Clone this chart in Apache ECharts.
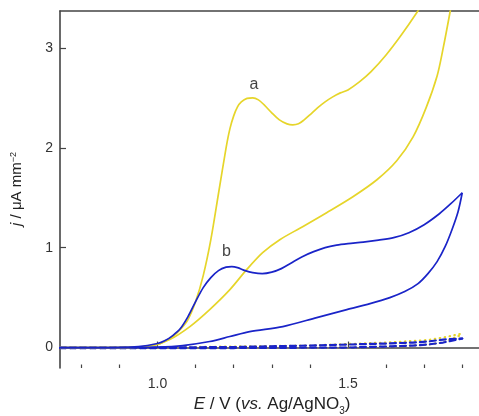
<!DOCTYPE html>
<html>
<head>
<meta charset="utf-8">
<script src="https://cdn.jsdelivr.net/npm/echarts@6/dist/echarts.min.js"></script>
<style>
  html, body { margin: 0; padding: 0; background: #fff; }
  #chart { width: 479px; height: 416px; }
</style>
</head>
<body>
<div id="chart"></div>
<script>
// Cyclic voltammograms: curve a (yellow) and curve b (blue), with blank scans (dashed/dotted)

// Curve a — anodic sweep
const eAFwd = [0.744, 0.85, 0.95, 1.00, 1.02, 1.04, 1.06, 1.08, 1.10, 1.12, 1.14, 1.16, 1.18, 1.19, 1.20, 1.21, 1.22, 1.235, 1.25, 1.265, 1.28, 1.30, 1.32, 1.34, 1.355, 1.37, 1.385, 1.40, 1.42, 1.44, 1.46, 1.48, 1.50, 1.53, 1.56, 1.60, 1.64, 1.68, 1.72, 1.76, 1.80];
const jAFwd = [0.0, 0.0, 0.005, 0.03, 0.065, 0.11, 0.18, 0.28, 0.46, 0.72, 1.08, 1.54, 2.00, 2.19, 2.32, 2.41, 2.46, 2.495, 2.50, 2.48, 2.43, 2.35, 2.28, 2.24, 2.23, 2.24, 2.28, 2.33, 2.40, 2.46, 2.51, 2.55, 2.58, 2.66, 2.76, 2.93, 3.13, 3.35, 3.59, 3.85, 4.13];
// Curve a — cathodic sweep
const eARev = [1.80, 1.785, 1.768, 1.749, 1.734, 1.705, 1.671, 1.628, 1.576, 1.513, 1.444, 1.381, 1.321, 1.276, 1.234, 1.190, 1.137, 1.085, 1.032, 0.98, 0.90, 0.744];
const jARev = [4.13, 3.73, 3.36, 2.98, 2.72, 2.40, 2.11, 1.87, 1.68, 1.51, 1.35, 1.21, 1.08, 0.95, 0.78, 0.58, 0.38, 0.21, 0.08, 0.015, 0.0, 0.0];

// Curve b — anodic sweep
const eBFwd = [0.744, 0.85, 0.95, 1.00, 1.02, 1.04, 1.06, 1.08, 1.10, 1.12, 1.14, 1.16, 1.18, 1.195, 1.21, 1.23, 1.25, 1.275, 1.30, 1.325, 1.35, 1.38, 1.41, 1.44, 1.47, 1.50, 1.54, 1.58, 1.62, 1.66, 1.70, 1.74, 1.77, 1.80];
const jBFwd = [0.0, 0.0, 0.01, 0.04, 0.07, 0.12, 0.19, 0.31, 0.46, 0.60, 0.70, 0.77, 0.805, 0.81, 0.80, 0.77, 0.75, 0.74, 0.755, 0.79, 0.845, 0.91, 0.96, 1.00, 1.025, 1.04, 1.055, 1.075, 1.10, 1.15, 1.23, 1.34, 1.44, 1.55];
// Curve b — cathodic sweep
const eBRev = [1.80, 1.789, 1.773, 1.755, 1.734, 1.710, 1.684, 1.649, 1.610, 1.558, 1.497, 1.418, 1.329, 1.242, 1.190, 1.137, 1.066, 1.00, 0.90, 0.744];
const jBRev = [1.55, 1.36, 1.18, 1.01, 0.86, 0.74, 0.64, 0.56, 0.50, 0.44, 0.38, 0.30, 0.21, 0.16, 0.11, 0.06, 0.02, 0.005, 0.0, 0.0];

// Blank scans (dashed blue, dotted yellow)
const eBlank = [0.744, 1.00, 1.20, 1.40, 1.50, 1.60, 1.67, 1.71, 1.75, 1.80];
const jBlankBFwd = [-0.005, -0.005, -0.005, -0.002, 0.0, 0.01, 0.02, 0.03, 0.05, 0.09];
const jBlankBRev = [0.0, 0.0, 0.005, 0.02, 0.03, 0.04, 0.05, 0.06, 0.08, 0.09];
const jBlankAFwd = [-0.005, -0.005, -0.003, 0.0, 0.0, 0.01, 0.02, 0.03, 0.05, 0.13];
const jBlankARev = [0.0, 0.0, 0.01, 0.02, 0.035, 0.05, 0.065, 0.075, 0.10, 0.14];

// Axis ticks and labels
const xMajorTicks = [1.0, 1.5];
const xMinorTicks = [0.8, 0.9, 1.1, 1.2, 1.3, 1.4, 1.6, 1.7, 1.8];
const yTicks = [0, 1, 2, 3];

// Curve annotations
const noteText = ['a', 'b'];
const noteE = [1.253, 1.181];
const noteJ = [2.63, 0.96];

const X_MIN = 0.744, X_MAX = 1.844, Y_MIN = -0.205, Y_MAX = 3.37;
const YELLOW = '#e6d52a';
const BLUE = '#1a24c8';
const AXIS = '#444';
const FONT = '"Liberation Sans", Arial, sans-serif';

const zip = (xs, ys) => xs.map((x, i) => [x, ys[i]]);

const chart = echarts.init(document.getElementById('chart'), null, { renderer: 'canvas' });

function solid(data, color) {
  return {
    type: 'line', data, showSymbol: false, smooth: 0.3, animation: false,
    lineStyle: { color, width: 1.7 }, z: 3
  };
}
function blank(data, color, dash, width) {
  return {
    type: 'line', data, showSymbol: false, animation: false,
    lineStyle: { color, width, type: dash, cap: 'round' }, z: 2
  };
}

const baseX = {
  type: 'value', min: X_MIN, max: X_MAX, gridIndex: 0,
  splitLine: { show: false }
};

chart.setOption({
  animation: false,
  backgroundColor: '#fff',
  grid: { left: 60, right: 0, top: 11, bottom: 48, containLabel: false },
  xAxis: [
    Object.assign({}, baseX, {
      position: 'bottom',
      axisLine: { show: true, lineStyle: { color: AXIS, width: 1.6 } },
      axisTick: { show: true, inside: true, length: 6, customValues: xMajorTicks, lineStyle: { color: AXIS, width: 1.2 } },
      axisLabel: { show: true, customValues: xMajorTicks, margin: 9, color: '#333', fontSize: 14, fontFamily: FONT,
        formatter: v => v.toFixed(1) }
    }),
    Object.assign({}, baseX, {
      position: 'bottom',
      axisLine: { show: false },
      axisTick: { show: true, inside: true, length: 3.5, customValues: xMinorTicks, lineStyle: { color: AXIS, width: 1.2 } },
      axisLabel: { show: false }
    }),
    Object.assign({}, baseX, {
      position: 'top',
      axisLine: { show: true, lineStyle: { color: AXIS, width: 1.6 } },
      axisTick: { show: false },
      axisLabel: { show: false }
    })
  ],
  yAxis: {
    type: 'value', min: Y_MIN, max: Y_MAX,
    splitLine: { show: false },
    axisLine: { show: true, lineStyle: { color: AXIS, width: 1.6 } },
    axisTick: { show: true, inside: true, length: 6, customValues: yTicks, lineStyle: { color: AXIS, width: 1.2 } },
    axisLabel: { show: true, customValues: yTicks, margin: 7, color: '#333', fontSize: 14, fontFamily: FONT }
  },
  series: [
    blank(zip(eBlank, jBlankAFwd), YELLOW, [0.5, 4.5], 2.2),
    blank(zip(eBlank, jBlankARev), YELLOW, [0.5, 4.5], 2.2),
    blank(zip(eBlank, jBlankBFwd), BLUE, [6, 4], 2.2),
    blank(zip(eBlank, jBlankBRev), BLUE, [6, 4], 2.2),
    solid(zip(eAFwd, jAFwd), YELLOW),
    solid(zip(eARev, jARev), YELLOW),
    solid(zip(eBFwd, jBFwd), BLUE),
    solid(zip(eBRev, jBRev), BLUE),
    {
      type: 'scatter', animation: false, symbolSize: 1, z: 5,
      itemStyle: { color: 'rgba(0,0,0,0)' },
      data: noteText.map((t, i) => ({ value: [noteE[i], noteJ[i]], name: t })),
      label: { show: true, position: 'inside', formatter: p => p.name,
        color: '#111', fontSize: 16, fontFamily: FONT }
    }
  ],
  graphic: [
    {
      type: 'text', x: 272, y: 404,
      style: {
        text: '{i|E} / V ({i|vs.} Ag/AgNO{sub|3})',
        align: 'center', verticalAlign: 'middle',
        fontSize: 17, fontFamily: FONT, fill: '#222',
        rich: {
          i: { fontStyle: 'italic', fontSize: 17, fontFamily: FONT, fill: '#222' },
          sub: { fontSize: 10, fontFamily: FONT, fill: '#222', verticalAlign: 'bottom', padding: [0, 0, -4, 0] }
        }
      }
    },
    {
      type: 'text', x: 17, y: 189, rotation: Math.PI / 2,
      style: {
        text: '{i|j} / μA mm{sup|−2}',
        align: 'center', verticalAlign: 'middle',
        fontSize: 15, fontFamily: FONT, fill: '#222',
        rich: {
          i: { fontStyle: 'italic', fontSize: 15, fontFamily: FONT, fill: '#222' },
          sup: { fontSize: 9, fontFamily: FONT, fill: '#222', verticalAlign: 'top', padding: [0, 0, 6, 0] }
        }
      }
    }
  ]
});
</script>
</body>
</html>
